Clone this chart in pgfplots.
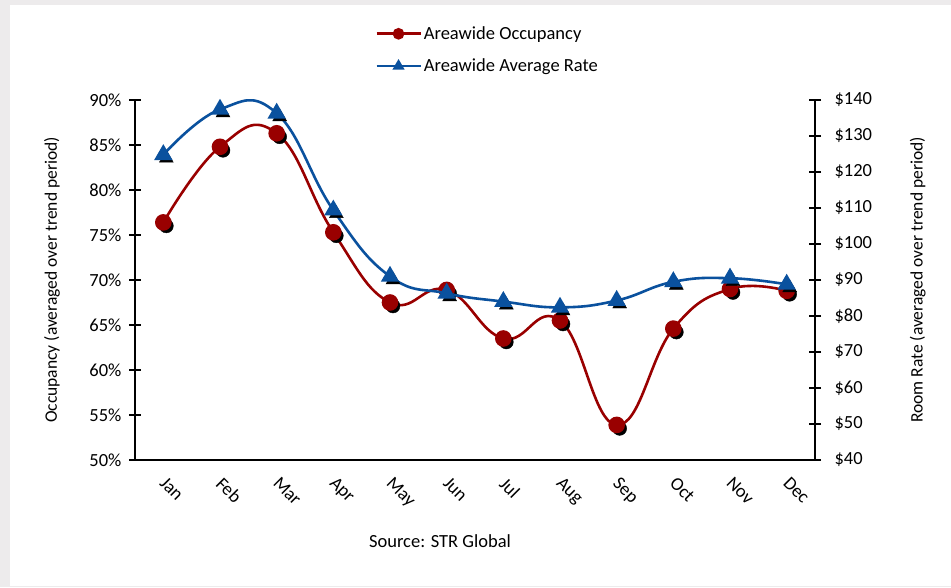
\documentclass[border=0pt]{standalone}
\usepackage{pgfplots}
\pgfplotsset{compat=1.18}
\usepackage{fontspec}
\setmainfont{Carlito}
\definecolor{occred}{HTML}{990000}
\definecolor{rateblue}{HTML}{0A519E}
\definecolor{bggray}{HTML}{EDEBEC}
\pgfplotstableread{
m occ rate
1 76.4 124.8
2 84.8 137.4
3 86.3 136.3
4 75.3 109.4
5 67.5 91.0
6 68.9 86.3
7 63.5 84.0
8 65.5 82.4
9 53.9 84.3
10 64.6 89.5
11 69.0 90.5
12 68.8 88.8
}\datatable
\newcommand{\bigf}{\fontsize{18.5}{22}\selectfont}
\newcommand{\labf}{\fontsize{17.5}{21}\selectfont}
\begin{document}
\begin{tikzpicture}[x=1pt,y=1pt]
\fill[bggray] (-135,-127) rectangle (816,460);
\fill[white] (-125,-126) rectangle (816,455);
\pgfplotsset{
  every axis/.append style={
    scale only axis, width=680pt, height=360pt,
    xmin=0.5, xmax=12.5,
    font=\bigf,
    tick align=center,
    major tick length=12pt, minor tick length=12pt,
    tick style={black, line width=1.2pt},
    axis line style={black, line width=1.6pt},
    /pgf/number format/assume math mode=true,
  },
}
\begin{axis}[
  at={(0,0)}, anchor=south west,
  axis x line*=bottom, axis y line*=left,
  ymin=50, ymax=90, ytick={50,55,...,90},
  yticklabel={\pgfmathprintnumber{\tick}\%},
  xtick={1,...,12},
  xticklabels={Jan,Feb,Mar,Apr,May,Jun,Jul,Aug,Sep,Oct,Nov,Dec},
  x tick style={draw=none},
  minor xtick={1.5,2.5,...,12.5},
  minor x tick style={black, line width=1.2pt},
  xticklabel style={xshift=4pt, yshift=-5pt, rotate=-45, anchor=north west},
  yticklabel style={xshift=-4pt},
  ylabel={Occupancy (averaged over trend period)},
  every axis y label/.style={at={(axis description cs:-0.122,0.5)}, rotate=90, anchor=center, font=\labf},
  legend style={at={(axis description cs:0.353,1.139)}, anchor=west, draw=none, fill=none,
    inner xsep=0pt, font=\bigf, row sep=14pt, cells={anchor=west}},
  legend cell align=left,
  legend image code/.code={\draw[#1, mark size=4.5pt, mark repeat=2, mark phase=2] plot coordinates {(0pt,0pt) (22pt,0pt) (44pt,0pt)};},
]
\addplot[only marks, mark=*, mark size=7pt, black, forget plot,
  every mark/.append style={xshift=3pt, yshift=-3.5pt}] table[x=m,y=occ]{\datatable};
\addplot[smooth, tension=0.75, occred, line width=2.6pt, mark=*, mark size=7pt,
  mark options={solid, fill=occred, draw=occred}] table[x=m,y=occ]{\datatable};
\addlegendentry{Areawide Occupancy}
\addlegendimage{rateblue, line width=2.6pt, mark=triangle*, mark size=5.5pt, mark options={fill=rateblue, draw=rateblue}}
\addlegendentry{Areawide Average Rate}
\end{axis}
\begin{axis}[
  at={(0,0)}, anchor=south west,
  axis x line=none, axis y line*=right,
  ymin=40, ymax=140, ytick={40,50,...,140},
  yticklabel={\$\pgfmathprintnumber{\tick}},
  yticklabel style={xshift=10pt},
  ylabel={Room Rate (averaged over trend period)},
  every axis y label/.style={at={(axis description cs:1.151,0.5)}, rotate=90, anchor=center, font=\labf},
]
\addplot[only marks, mark=triangle*, mark size=8pt, black, forget plot,
  every mark/.append style={xshift=3pt, yshift=-3.5pt}] table[x=m,y=rate]{\datatable};
\addplot[smooth, tension=0.75, rateblue, line width=2.6pt, mark=triangle*, mark size=8pt,
  mark options={solid, fill=rateblue, draw=rateblue}] table[x=m,y=rate]{\datatable};
\end{axis}
\node[font=\bigf] at (305,-81) {Source: STR Global};
\end{tikzpicture}
\end{document}
